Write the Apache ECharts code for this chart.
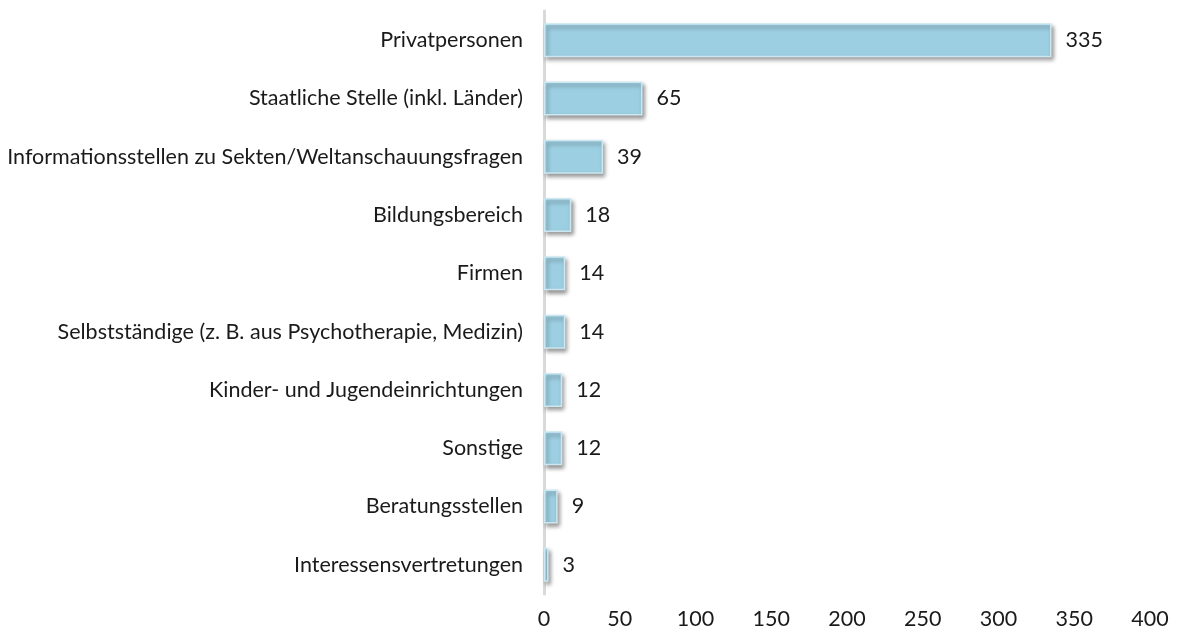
<!DOCTYPE html>
<html>
<head>
<meta charset="utf-8">
<script src="https://cdn.jsdelivr.net/npm/echarts@6/dist/echarts.min.js"></script>
<style>
html,body{margin:0;padding:0;background:#fff;}
#chart{width:1177px;height:631px;}
</style>
</head>
<body>
<div id="chart"></div>
<script>
// Kategorien (von oben nach unten)
var categories = [
    'Privatpersonen',
    'Staatliche Stelle (inkl. Länder)',
    'Informationsstellen zu Sekten/Weltanschauungsfragen',
    'Bildungsbereich',
    'Firmen',
    'Selbstständige (z. B. aus Psychotherapie, Medizin)',
    'Kinder- und Jugendeinrichtungen',
    'Sonstige',
    'Beratungsstellen',
    'Interessensvertretungen'
];
var values = [335, 65, 39, 18, 14, 14, 12, 12, 9, 3];

var myChart = echarts.init(document.getElementById('chart'));
var option = {
    animation: false,
    textStyle: {fontFamily: 'Lato'},
    grid: {left: 544, right: 27, top: 11, bottom: 37},
    xAxis: {
        type: 'value',
        min: 0,
        max: 400,
        interval: 50,
        axisLine: {show: false},
        axisTick: {show: false},
        splitLine: {show: false},
        axisLabel: {color: '#1a1a1a', fontSize: 21.5, margin: 14}
    },
    yAxis: {
        type: 'category',
        inverse: true,
        data: categories,
        axisLine: {show: true, lineStyle: {color: '#d9d9d9', width: 3}},
        axisTick: {show: false},
        axisLabel: {color: '#1a1a1a', fontSize: 21.5, margin: 21}
    },
    series: [{
        type: 'bar',
        data: values,
        barWidth: 34,
        itemStyle: {
            color: '#9dcfe2',
            borderColor: '#cde7f1',
            borderWidth: 1.5,
            shadowColor: 'rgba(0,0,0,0.4)',
            shadowBlur: 4,
            shadowOffsetX: 2,
            shadowOffsetY: 3
        },
        label: {
            show: true,
            position: 'right',
            distance: 14,
            color: '#1a1a1a',
            fontSize: 21.5
        }
    }]
};
myChart.setOption(option);
</script>
</body>
</html>
